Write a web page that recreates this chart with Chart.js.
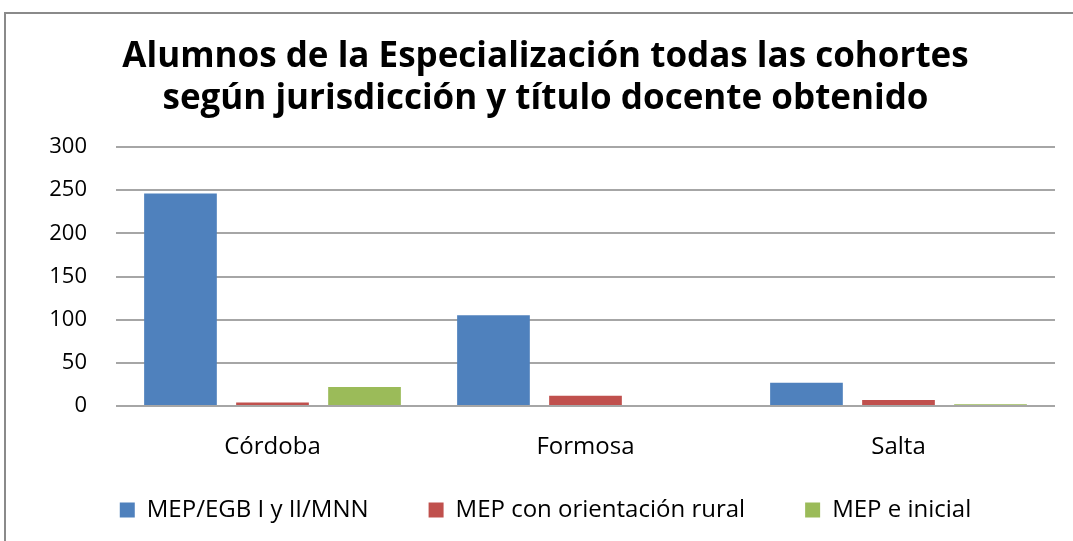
<!DOCTYPE html>
<html>
<head>
<title>Alumnos de la Especialización</title>
<style>
  body { margin: 0; background: #fff; }
  #wrap { position: relative; width: 1073px; height: 541px; overflow: hidden; }
  #frame { position: absolute; left: 4px; top: 12px; width: 1080px; height: 540px; border: 2px solid #8a8a8a; box-sizing: border-box; }
  canvas { position: absolute; left: 0; top: 0; }
</style>
</head>
<body>
<div id="wrap">
  <div id="frame"></div>
  <canvas id="myChart" width="1073" height="541"></canvas>
</div>
<script src="https://cdn.jsdelivr.net/npm/chart.js@4"></script>
<script>
const categories = ['Córdoba', 'Formosa', 'Salta'];
const seriesNames = ['MEP/EGB I y II/MNN', 'MEP con orientación rural', 'MEP e inicial'];
const mepEgb = [246, 105, 27];
const mepRural = [4, 12, 7];
const mepInicial = [22, 0, 2];
const yTicks = [0, 50, 100, 150, 200, 250, 300];
const colors = ['#4f81bd', '#c0504d', '#9bbb59'];
const fontFam = "'Open Sans', 'DejaVu Sans', sans-serif";

const ctx = document.getElementById('myChart').getContext('2d');
new Chart(ctx, {
  type: 'bar',
  data: {
    labels: categories,
    datasets: [mepEgb, mepRural, mepInicial].map((d, i) => ({
      label: seriesNames[i],
      data: d,
      backgroundColor: colors[i],
      borderWidth: 0,
      categoryPercentage: 0.882,
      barPercentage: 0.79
    }))
  },
  options: {
    responsive: false,
    animation: false,
    layout: { padding: { left: 36, right: 18, top: 36, bottom: 9 } },
    plugins: {
      title: {
        display: true,
        text: ['Alumnos de la Especialización todas las cohortes', 'según jurisdicción y título docente obtenido'],
        color: '#000',
        font: { family: fontFam, size: 35, weight: 'bold', lineHeight: 1.2 },
        padding: { top: 0, bottom: 27 }
      },
      legend: {
        position: 'bottom',
        labels: {
          color: '#000',
          font: { family: fontFam, size: 24 },
          boxWidth: 15,
          boxHeight: 15,
          padding: 36,
          // wider gaps between the legend entries
          generateLabels: chart => Chart.defaults.plugins.legend.labels.generateLabels(chart)
            .map((l, i, arr) => ({ ...l, text: i < arr.length - 1 ? l.text + '\u2003' : l.text }))
        }
      },
      tooltip: { enabled: false }
    },
    scales: {
      x: {
        grid: { display: false },
        border: { display: false },
        ticks: { color: '#000', font: { family: fontFam, size: 24 }, padding: 19 },
        afterFit: s => { s.height = 56; }
      },
      y: {
        min: 0,
        max: 300,
        afterBuildTicks: s => { s.ticks = yTicks.map(v => ({ value: v })); },
        ticks: { color: '#000', font: { family: fontFam, size: 22 }, padding: 29 },
        grid: { color: '#a6a6a6', lineWidth: 2, tickLength: 0 },
        border: { display: false },
        afterFit: s => { s.width = 80; }
      }
    }
  }
});
</script>
</body>
</html>
